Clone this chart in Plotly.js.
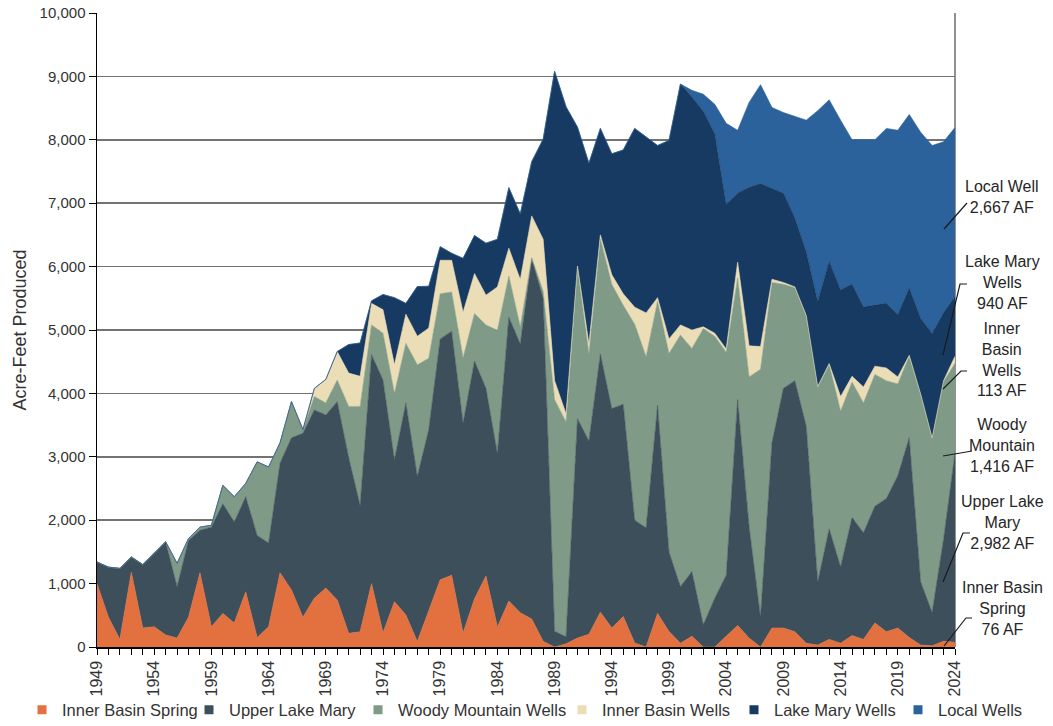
<!DOCTYPE html>
<html>
<head>
<meta charset="utf-8">
<script src="https://cdn.plot.ly/plotly-3.0.1.min.js"></script>
<style>html,body{margin:0;padding:0;background:#fff}#chart{width:1053px;height:726px}</style>
</head>
<body>
<div id="chart"></div>
<script>
const years = [1949,1950,1951,1952,1953,1954,1955,1956,1957,1958,
  1959,1960,1961,1962,1963,1964,1965,1966,1967,1968,
  1969,1970,1971,1972,1973,1974,1975,1976,1977,1978,
  1979,1980,1981,1982,1983,1984,1985,1986,1987,1988,
  1989,1990,1991,1992,1993,1994,1995,1996,1997,1998,
  1999,2000,2001,2002,2003,2004,2005,2006,2007,2008,
  2009,2010,2011,2012,2013,2014,2015,2016,2017,2018,
  2019,2020,2021,2022,2023,2024];

const innerBasinSpring = [1000,470,120,1180,300,320,190,140,470,1170,
  320,530,380,870,150,320,1170,900,470,770,
  930,740,215,240,1000,225,715,505,85,585,
  1060,1130,220,760,1120,315,725,540,440,90,
  0,50,140,200,550,300,480,65,0,530,
  245,60,170,0,0,170,340,140,0,300,
  300,240,60,30,120,60,180,120,380,240,
  300,150,30,20,90,76];

const upperLakeMary = [340,790,1120,240,1000,1160,1470,810,1210,670,
  1570,1730,1590,1500,1610,1320,1730,2400,2900,2970,
  2730,3130,2775,1990,3610,3985,2235,3345,2605,2845,
  3800,3850,3315,3750,2960,2735,4475,4240,5680,5410,
  250,110,3460,3050,4070,3460,3350,1935,1880,3280,
  1255,890,1020,350,770,960,3560,1760,470,2920,
  3780,3960,3420,994,1742,1203,1862,1682,1842,2101,
  2401,3149,994,525,1610,2982];

const woodyMountainWells = [0,0,0,0,0,0,0,370,30,50,
  30,290,400,210,1160,1200,320,570,60,210,
  190,340,805,1565,470,740,1050,940,1760,1125,
  710,620,1025,750,1000,1945,650,270,20,110,
  3650,3390,2390,1370,1820,1960,1560,3090,2700,1640,
  3130,3970,3520,4670,4130,3520,1920,2360,3910,2530,
  1640,1465,1736,3072,2593,2457,2138,2048,2078,1859,
  1449,1288,2958,2748,2486,1416];

const innerBasinWells = [0,0,0,0,0,0,0,0,0,0,
  0,0,0,0,0,0,0,0,0,130,
  370,450,525,475,340,370,450,460,450,475,
  530,500,720,630,470,685,440,745,660,820,
  300,130,20,160,60,150,180,270,690,60,
  230,160,290,30,50,50,250,490,360,50,
  30,15,14,14,15,230,90,250,130,200,
  110,13,8,7,14,113];

const lakeMaryWells = [0,0,0,0,0,0,0,0,0,0,
  0,0,0,0,0,0,0,0,0,0,
  0,0,450,525,40,240,1060,170,785,660,
  215,110,850,600,820,750,955,1035,855,1580,
  4880,4840,2190,2850,1680,1910,2270,2820,2780,2400,
  3130,3800,3680,3400,3150,2280,1090,2500,2570,1440,
  1410,1090,1004,1345,1614,1685,1455,1265,965,1025,
  985,1065,1196,1646,1075,940];

const localWells = [0,0,0,0,0,0,0,0,0,0,
  0,0,0,0,0,0,0,0,0,0,
  0,0,0,0,0,0,0,0,0,0,
  0,0,0,0,0,0,0,0,0,0,
  0,0,0,0,0,0,0,0,0,0,
  0,0,100,270,460,1280,990,1340,1560,1270,
  1270,1600,2076,3005,2546,2675,2275,2635,2605,2755,
  2905,2735,2934,2964,2695,2667];

const seriesNames = ['Inner Basin Spring','Upper Lake Mary','Woody Mountain Wells','Inner Basin Wells','Lake Mary Wells','Local Wells'];
const seriesValues = [innerBasinSpring, upperLakeMary, woodyMountainWells, innerBasinWells, lakeMaryWells, localWells];
const seriesColors = ['#E3703F','#3E4F5C','#7F9B87','#EBDDB6','#173A62','#2B629C'];

const rightLabels = ['Local Well<br>2,667 AF','Lake Mary<br>Wells<br>940 AF','Inner<br>Basin<br>Wells<br>113 AF','Woody<br>Mountain<br>1,416 AF','Upper Lake<br>Mary<br>2,982 AF','Inner Basin<br>Spring<br>76 AF'];

const FONT = 'Liberation Sans, Arial, Helvetica, sans-serif';
const W = 1053, H = 726;
const L = 97, R = 955, T = 13, B = 647;
const px = x => (x - L) / (R - L);
const py = y => (B - y) / (B - T);

const legendOf = ['legend','legend','legend','legend2','legend2','legend2'];
const legendWidths = [122, 124, 0, 127, 119, 0];

const traces = [];
seriesValues.forEach((vals, i) => {
  traces.push({
    type: 'scatter', mode: 'lines', x: years, y: vals, name: seriesNames[i],
    stackgroup: 'one', line: {width: 0.6, color: seriesColors[i]},
    fillcolor: seriesColors[i], showlegend: false
  });
});
seriesNames.forEach((n, i) => {
  const t = {
    type: 'scatter', mode: 'markers', x: [null], y: [null], name: n,
    legend: legendOf[i],
    marker: {symbol: 'square', size: 9, color: seriesColors[i]}, showlegend: true, hoverinfo: 'skip'
  };
  if (legendWidths[i]) t.legendwidth = legendWidths[i];
  traces.push(t);
});

const labelCenters = [197, 282.5, 360, 445, 522.5, 608.5];
const annotations = rightLabels.map((t, i) => ({
  xref: 'paper', yref: 'paper', x: px(1002), y: py(labelCenters[i]),
  xanchor: 'center', yanchor: 'middle', align: 'center', showarrow: false,
  text: t, font: {family: FONT, size: 16, color: '#262626'}
}));

const leaders = [
  [[944,229],[967,203]],
  [[943,355],[960,284],[967,284]],
  [[943,389],[961,371],[967,371]],
  [[943,456],[972,451]],
  [[943,582],[963,533],[970,533]],
  [[944,646],[966,618],[972,618]]
];
const shapes = leaders.map(pts => ({
  type: 'path', xref: 'paper', yref: 'paper',
  path: pts.map((p, k) => (k ? 'L' : 'M') + px(p[0]).toFixed(5) + ',' + py(p[1]).toFixed(5)).join(' '),
  line: {color: '#1a1a1a', width: 1.2}
}));
shapes.push({type: 'line', xref: 'paper', yref: 'paper', x0: 1, x1: 1, y0: 0, y1: 1, layer: 'below',
  line: {color: '#555555', width: 1.3}});

const legendBase = {
  orientation: 'h', xref: 'container', yref: 'container', xanchor: 'left',
  y: 1 - 710 / H, yanchor: 'middle', itemwidth: 30,
  font: {family: FONT, size: 16.5, color: '#333'}, traceorder: 'normal', bgcolor: 'rgba(0,0,0,0)'
};

const layout = {
  width: W, height: H,
  margin: {l: 97, r: 98, t: 13, b: 79, pad: 0},
  paper_bgcolor: '#ffffff', plot_bgcolor: '#ffffff',
  font: {family: FONT, size: 15, color: '#333333'},
  showlegend: true,
  xaxis: {
    range: [1949, 2024], tickmode: 'linear', tick0: 1949, dtick: 5, tickformat: 'd',
    tickangle: -90, ticks: 'outside', ticklen: 6, tickwidth: 1, tickcolor: '#000',
    showline: true, linecolor: '#000', linewidth: 1.5, showgrid: false, zeroline: false,
    tickfont: {family: FONT, size: 16, color: '#333'},
    minor: {tickmode: 'linear', tick0: 1949, dtick: 1, ticks: 'outside', ticklen: 6, tickwidth: 1, tickcolor: '#000', showgrid: false},
    automargin: false, fixedrange: true
  },
  yaxis: {
    range: [0, 10000], tickmode: 'linear', tick0: 0, dtick: 1000, tickformat: ',d',
    ticks: 'outside', ticklen: 7, tickwidth: 1, tickcolor: '#000',
    showline: true, linecolor: '#000', linewidth: 1.5,
    showgrid: true, gridcolor: '#737373', gridwidth: 1.5, zeroline: false,
    tickfont: {family: FONT, size: 15, color: '#333'},
    title: {text: 'Acre-Feet Produced', font: {family: FONT, size: 18, color: '#333'}, standoff: 8},
    automargin: false, fixedrange: true
  },
  legend: Object.assign({}, legendBase, {x: 22 / W}),
  legend2: Object.assign({}, legendBase, {x: 562 / W}),
  annotations: annotations,
  shapes: shapes
};

Plotly.newPlot('chart', traces, layout, {displayModeBar: false, staticPlot: true});
</script>
</body>
</html>
